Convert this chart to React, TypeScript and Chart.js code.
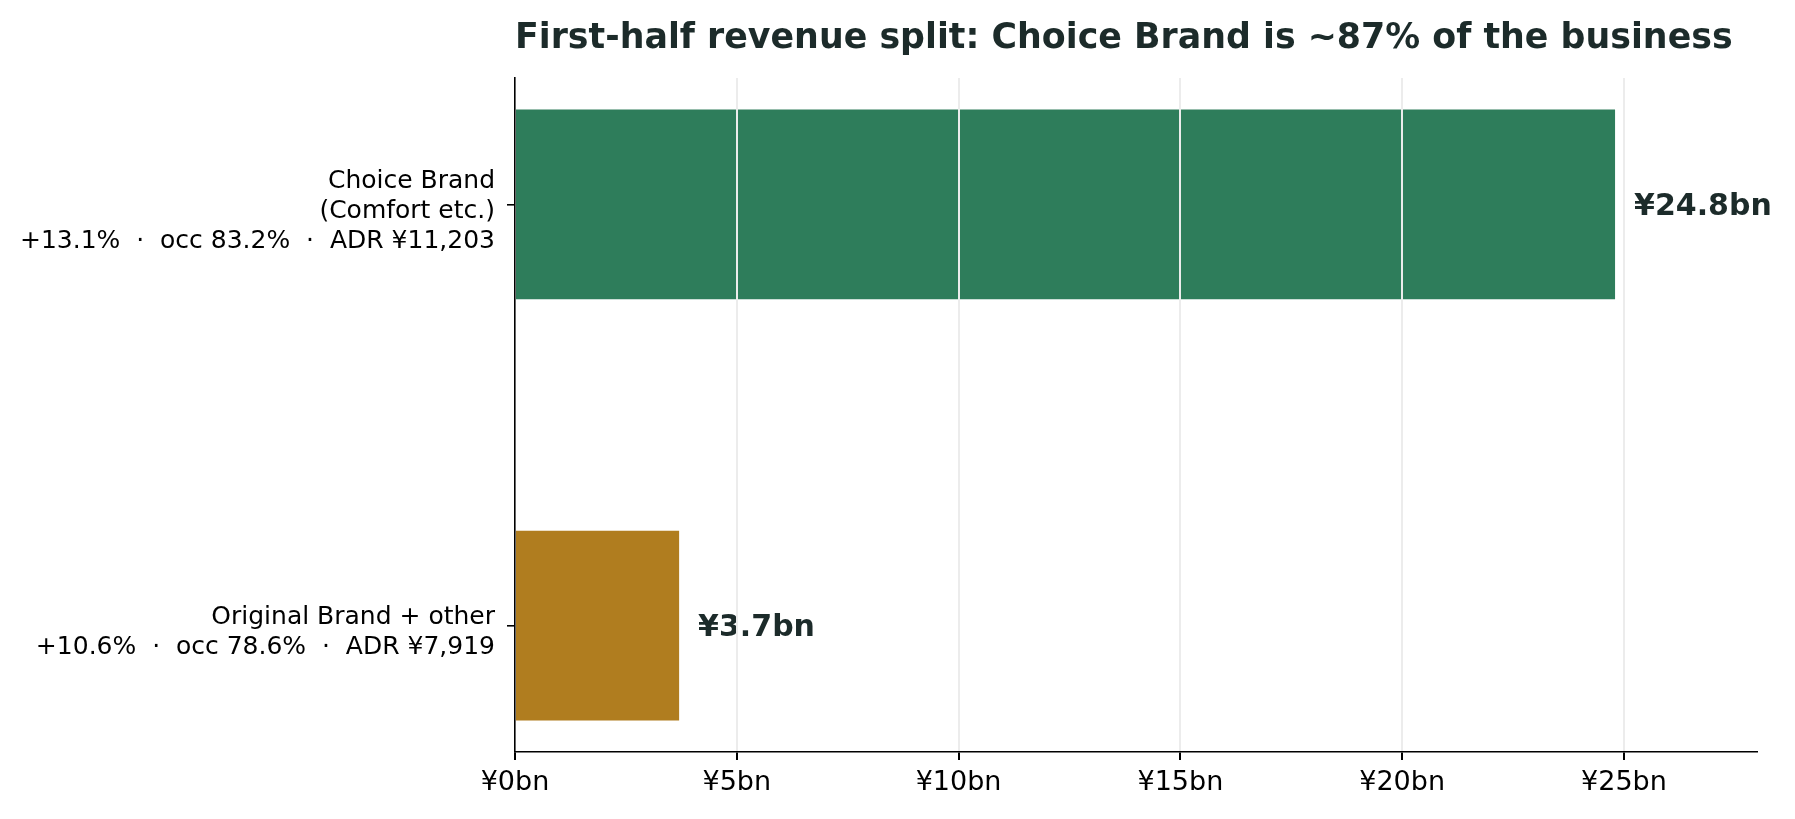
import React, { useEffect, useRef } from "react";
import { Chart, registerables } from "chart.js";

Chart.register(...registerables);

// segments, top to bottom
const segmentNames = [["Choice Brand", "(Comfort etc.)"], ["Original Brand + other"]];
const revenueGrowth = ["+13.1%", "+10.6%"];
const occupancy = ["83.2%", "78.6%"];
const adr = ["¥11,203", "¥7,919"];
const revenueBn = [24.8, 3.7];
const barColors = ["#2e7d5b", "#b07d1f"];
const xTickValues = [0, 5, 10, 15, 20, 25];

const titleText = "First-half revenue split: Choice Brand is ~87% of the business";
const darkText = "#1c2b2a";

const segmentLabels = segmentNames.map((name, i) => [
	...name,
	`${revenueGrowth[i]}  ·  occ ${occupancy[i]}  ·  ADR ${adr[i]}`,
]);

const valueLabelPlugin = {
	id: "valueLabels",
	afterDatasetsDraw(chart: Chart) {
		const ctx = chart.ctx;
		const meta = chart.getDatasetMeta(0);
		ctx.save();
		ctx.font = "bold 30px 'DejaVu Sans'";
		ctx.fillStyle = darkText;
		ctx.textAlign = "left";
		ctx.textBaseline = "middle";
		meta.data.forEach((bar: any, i: number) => {
			ctx.fillText(`¥${revenueBn[i].toFixed(1)}bn`, bar.x + 19, bar.y + 3);
		});
		ctx.restore();
	},
};

const titlePlugin = {
	id: "leftTitle",
	afterDraw(chart: Chart) {
		const ctx = chart.ctx;
		ctx.save();
		ctx.font = "bold 34.8px 'DejaVu Sans'";
		ctx.fillStyle = darkText;
		ctx.textAlign = "left";
		ctx.textBaseline = "alphabetic";
		ctx.fillText(titleText, chart.chartArea.left, 48);
		ctx.restore();
	},
};

const RevenueSplitChart: React.FC = () => {
	const chartRef = useRef<HTMLCanvasElement>(null);
	const chartInstance = useRef<Chart>();

	useEffect(() => {
		document.body.style.margin = "0";
		if (!chartRef.current) return;
		const ctx = chartRef.current.getContext("2d");
		if (!ctx) return;

		chartInstance.current = new Chart(ctx, {
			type: "bar",
			data: {
				datasets: [
					{
						data: revenueBn.map((v, i) => ({ x: v, y: i })),
						backgroundColor: barColors,
						borderWidth: 0,
						barPercentage: 0.45,
						categoryPercentage: 1,
					},
				],
			},
			options: {
				indexAxis: "y",
				animation: false,
				responsive: true,
				maintainAspectRatio: false,
				layout: { padding: { top: 78, right: 38, left: 0, bottom: 0 } },
				font: { family: "'DejaVu Sans'" },
				scales: {
					x: {
						type: "linear",
						min: 0,
						max: 28,
						afterBuildTicks: (scale: any) => {
							scale.ticks = xTickValues.map((v) => ({ value: v }));
						},
						afterFit: (scale: any) => {
							scale.height = 67;
						},
						ticks: {
							callback: (value: any) => `¥${value}bn`,
							color: "#000",
							padding: 7,
							font: { family: "'DejaVu Sans'", size: 27 },
							maxRotation: 0,
						},
						grid: {
							// gridlines sit on top of the bars, like the original
							z: 1,
							color: (c: any) => (c.tick && c.tick.value === 0 ? "rgba(0,0,0,0)" : "#ececec"),
							tickColor: "#000",
							lineWidth: 2,
							tickLength: 8,
						},
						border: { display: true, color: "#000", width: 1.6, z: 2 },
					},
					y: {
						type: "linear",
						reverse: true,
						min: -0.3,
						max: 1.3,
						offset: false,
						afterBuildTicks: (scale: any) => {
							scale.ticks = segmentLabels.map((_, i) => ({ value: i }));
						},
						afterFit: (scale: any) => {
							scale.width = 515;
						},
						ticks: {
							callback: (_value: any, index: number) => segmentLabels[index],
							color: "#000",
							padding: 12,
							labelOffset: 7,
							font: { family: "'DejaVu Sans'", size: 25, lineHeight: 1.2 },
						},
						grid: {
							offset: false,
							drawOnChartArea: false,
							color: "#000",
							tickColor: "#000",
							lineWidth: 1.6,
							tickLength: 8,
						},
						border: { display: true, color: "#000", width: 1.6, z: 2 },
					},
				},
				plugins: {
					legend: { display: false },
					tooltip: { enabled: false },
					title: { display: false },
				},
			},
			plugins: [valueLabelPlugin, titlePlugin],
		});

		return () => {
			if (chartInstance.current) {
				chartInstance.current.destroy();
			}
		};
	}, []);

	return (
		<div style={{ width: "1795px", height: "819px", background: "#fff", position: "relative" }}>
			<canvas ref={chartRef} />
		</div>
	);
};

export default function App() {
	return <RevenueSplitChart />;
}
